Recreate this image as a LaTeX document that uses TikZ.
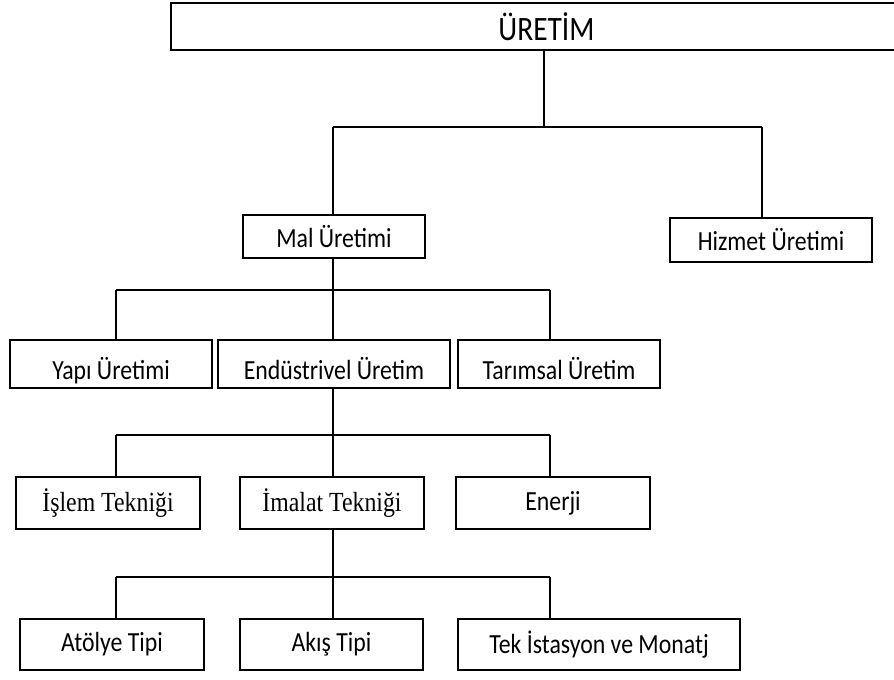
\documentclass[tikz,border=0pt]{standalone}
\usepackage{fontspec}
\usepackage{graphicx}
\setmainfont{Carlito}
\newfontfamily\timesfont{Liberation Serif}
\usetikzlibrary{positioning}
\newcommand{\tall}[1]{\scalebox{1.05}[1.22]{#1}}
\newcommand{\lowtall}[1]{\raisebox{-12pt}[0pt][0pt]{\tall{#1}}}

\begin{document}
\begin{tikzpicture}[x=0.75pt,y=-0.75pt,
    box/.style={draw,line width=1.1pt,inner sep=0pt,font=\fontsize{17}{20}\selectfont},
    link/.style={line width=1.1pt}]
  \def\px{0.75pt}
  \def\spine{333}
  \def\lft{116}
  \def\rgt{550}
  \useasboundingbox (0,0) rectangle (894,680);

  % top level
  \node[box,minimum width=751*\px,minimum height=47*\px,font=\fontsize{21}{26}\selectfont] (uretim) at (546.5,26.5) {\raisebox{-3pt}{\tall{ÜRETİM}}};
  \node[box,minimum width=182*\px,minimum height=43*\px] (mal) at (334,236.5) {\tall{Mal Üretimi}};
  \node[box,minimum width=202*\px,minimum height=44*\px] (hizmet) at (771,240) {\tall{Hizmet Üretimi}};

  % second level
  \node[box,minimum width=202*\px,minimum height=48*\px] (yapi) at (111,364) {\lowtall{Yapı Üretimi}};
  \node[box,minimum width=232*\px,minimum height=48*\px] (endustri) at (334,364) {\lowtall{Endüstrivel Üretim}};
  \node[box,minimum width=202*\px,minimum height=48*\px] (tarim) at (559,364) {\lowtall{Tarımsal Üretim}};

  \node[box,minimum width=184*\px,minimum height=52*\px,font=\fontsize{17}{20}\timesfont] (islem) at (108,503) {\tall{İşlem Tekniği}};
  \node[box,minimum width=184*\px,minimum height=52*\px,font=\fontsize{17}{20}\timesfont] (imalat) at (332,503) {\tall{İmalat Tekniği}};
  \node[box,minimum width=194*\px,minimum height=52*\px] (enerji) at (553,503) {\tall{Enerji}};

  \node[box,minimum width=184*\px,minimum height=51*\px] (atolye) at (112,644.5) {\tall{Atölye Tipi}};
  \node[box,minimum width=183*\px,minimum height=51*\px] (akis) at (331.5,644.5) {\tall{Akış Tipi}};
  \node[box,minimum width=282*\px,minimum height=51*\px] (tek) at (599,644.5) {\tall{Tek İstasyon ve Monatj}};

  % buses
  \coordinate (b1) at (544,127);
  \coordinate (b1l) at (\spine,127);
  \coordinate (b1r) at (762,127);
  \coordinate (b2) at (\spine,290);
  \coordinate (b2l) at (\lft,290);
  \coordinate (b2r) at (\rgt,290);
  \coordinate (b3) at (\spine,435);
  \coordinate (b3l) at (\lft,435);
  \coordinate (b3r) at (\rgt,435);
  \coordinate (b4) at (\spine,577);
  \coordinate (b4l) at (\lft,577);
  \coordinate (b4r) at (\rgt,577);

  \draw[link] (b1 |- uretim.south) -- (b1);
  \draw[link] (b1l) -- (b1r);
  \draw[link] (b1l) -- (b1l |- mal.north);
  \draw[link] (b1r) -- (b1r |- hizmet.north);

  \draw[link] (b2 |- mal.south) -- (b2 |- endustri.north);
  \draw[link] (b2l) -- (b2r);
  \draw[link] (b2l) -- (b2l |- yapi.north);
  \draw[link] (b2r) -- (b2r |- tarim.north);

  \draw[link] (b3 |- endustri.south) -- (b3 |- imalat.north);
  \draw[link] (b3l) -- (b3r);
  \draw[link] (b3l) -- (b3l |- islem.north);
  \draw[link] (b3r) -- (b3r |- enerji.north);

  \draw[link] (b4 |- imalat.south) -- (b4 |- akis.north);
  \draw[link] (b4l) -- (b4r);
  \draw[link] (b4l) -- (b4l |- atolye.north);
  \draw[link] (b4r) -- (b4r |- tek.north);
\end{tikzpicture}
\end{document}
